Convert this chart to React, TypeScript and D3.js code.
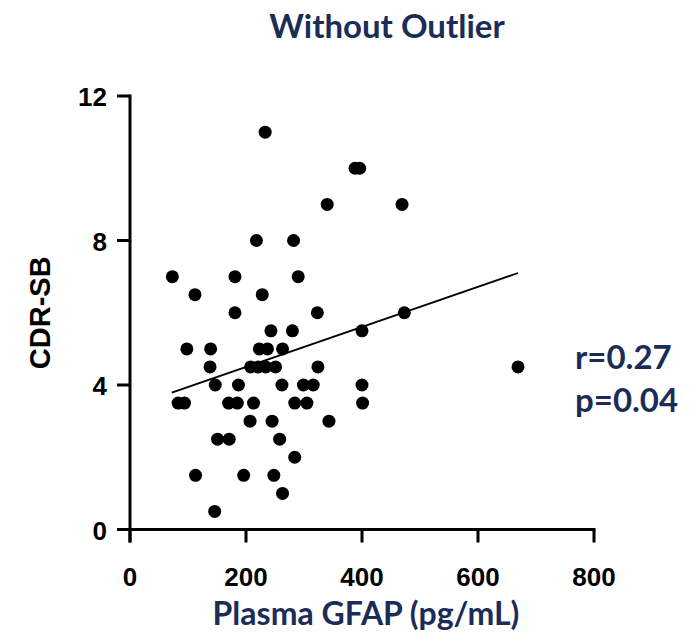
import React from "react";
import * as d3 from "d3";

const gfap = [
  233, 388, 396, 340, 469, 218, 282, 73, 181, 290, 112, 228, 181, 323, 473,
  243, 280, 400, 98, 139, 223, 237, 263, 138, 208, 221, 234, 251, 324,
  147, 187, 262, 299, 316, 400, 83, 94, 170, 185, 213, 284, 305, 401,
  207, 245, 343, 151, 171, 258, 284, 113, 196, 248, 263, 146, 669,
];
const cdrsb = [
  11, 10, 10, 9, 9, 8, 8, 7, 7, 7, 6.5, 6.5, 6, 6, 6,
  5.5, 5.5, 5.5, 5, 5, 5, 5, 5, 4.5, 4.5, 4.5, 4.5, 4.5, 4.5,
  4, 4, 4, 4, 4, 4, 3.5, 3.5, 3.5, 3.5, 3.5, 3.5, 3.5, 3.5,
  3, 3, 3, 2.5, 2.5, 2.5, 2, 1.5, 1.5, 1.5, 1, 0.5, 4.5,
];
const fitX = [72, 669];
const fitY = [3.79, 7.1];
const xTicks = [0, 200, 400, 600, 800];
const yTicks = [0, 4, 8, 12];
const title = "Without Outlier";
const xLabel = "Plasma GFAP (pg/mL)";
const yLabel = "CDR-SB";
const statLines = ["r=0.27", "p=0.04"];

const W = 698;
const H = 641;
const navy = "#1b2d56";
const axisFont = "'Liberation Sans', Arial, sans-serif";
const titleFont = "Lato, 'Open Sans', sans-serif";

export default function App() {
  const x = d3.scaleLinear().domain([0, 800]).range([130, 594]);
  const y = d3.scaleLinear().domain([0, 12]).range([529.5, 96]);
  const tick = 13;
  const line = d3
    .line<number>()
    .x((_, i) => x(fitX[i]))
    .y((_, i) => y(fitY[i]));
  return (
    <svg
      width={W}
      height={H}
      style={{ position: "absolute", left: 0, top: 0, background: "#fff" }}
    >
      <rect width={W} height={H} fill="#fff" />
      <text
        x={387}
        y={38}
        textAnchor="middle"
        fontFamily={titleFont}
        fontWeight={700}
        fontSize={33}
        fill={navy}
      >
        {title}
      </text>
      {/* axes */}
      <g stroke="#000" strokeWidth={3} fill="none">
        <line x1={x(0) - tick} x2={x(800) + 1.5} y1={y(0)} y2={y(0)} />
        <line x1={x(0)} x2={x(0)} y1={y(0) + tick} y2={y(12) - 1.5} />
        {xTicks.map((t) => (
          <line key={"xt" + t} x1={x(t)} x2={x(t)} y1={y(0)} y2={y(0) + tick} />
        ))}
        {yTicks.map((t) => (
          <line key={"yt" + t} x1={x(0) - tick} x2={x(0)} y1={y(t)} y2={y(t)} />
        ))}
      </g>
      <g fontFamily={axisFont} fontWeight={700} fontSize={26} fill="#000">
        {xTicks.map((t) => (
          <text key={"xl" + t} x={x(t)} y={586} textAnchor="middle">
            {t}
          </text>
        ))}
        {yTicks.map((t) => (
          <text key={"yl" + t} x={107} y={y(t) + 10} textAnchor="end">
            {t}
          </text>
        ))}
      </g>
      <text
        transform={`translate(50,${y(6)}) rotate(-90)`}
        textAnchor="middle"
        fontFamily={axisFont}
        fontWeight={700}
        fontSize={29}
        fill="#000"
      >
        {yLabel}
      </text>
      <text
        x={366}
        y={625}
        textAnchor="middle"
        fontFamily={titleFont}
        fontWeight={700}
        fontSize={32}
        fill={navy}
      >
        {xLabel}
      </text>
      {/* regression line */}
      <path d={line(fitX) || ""} stroke="#000" strokeWidth={1.8} fill="none" />
      {/* points */}
      <g fill="#000">
        {gfap.map((g, i) => (
          <circle key={i} cx={x(g)} cy={y(cdrsb[i])} r={6.5} />
        ))}
      </g>
      <g fontFamily={titleFont} fontWeight={700} fontSize={33} fill={navy}>
        {statLines.map((s, i) => (
          <text key={s} x={575} y={369 + i * 43}>
            {s}
          </text>
        ))}
      </g>
    </svg>
  );
}
